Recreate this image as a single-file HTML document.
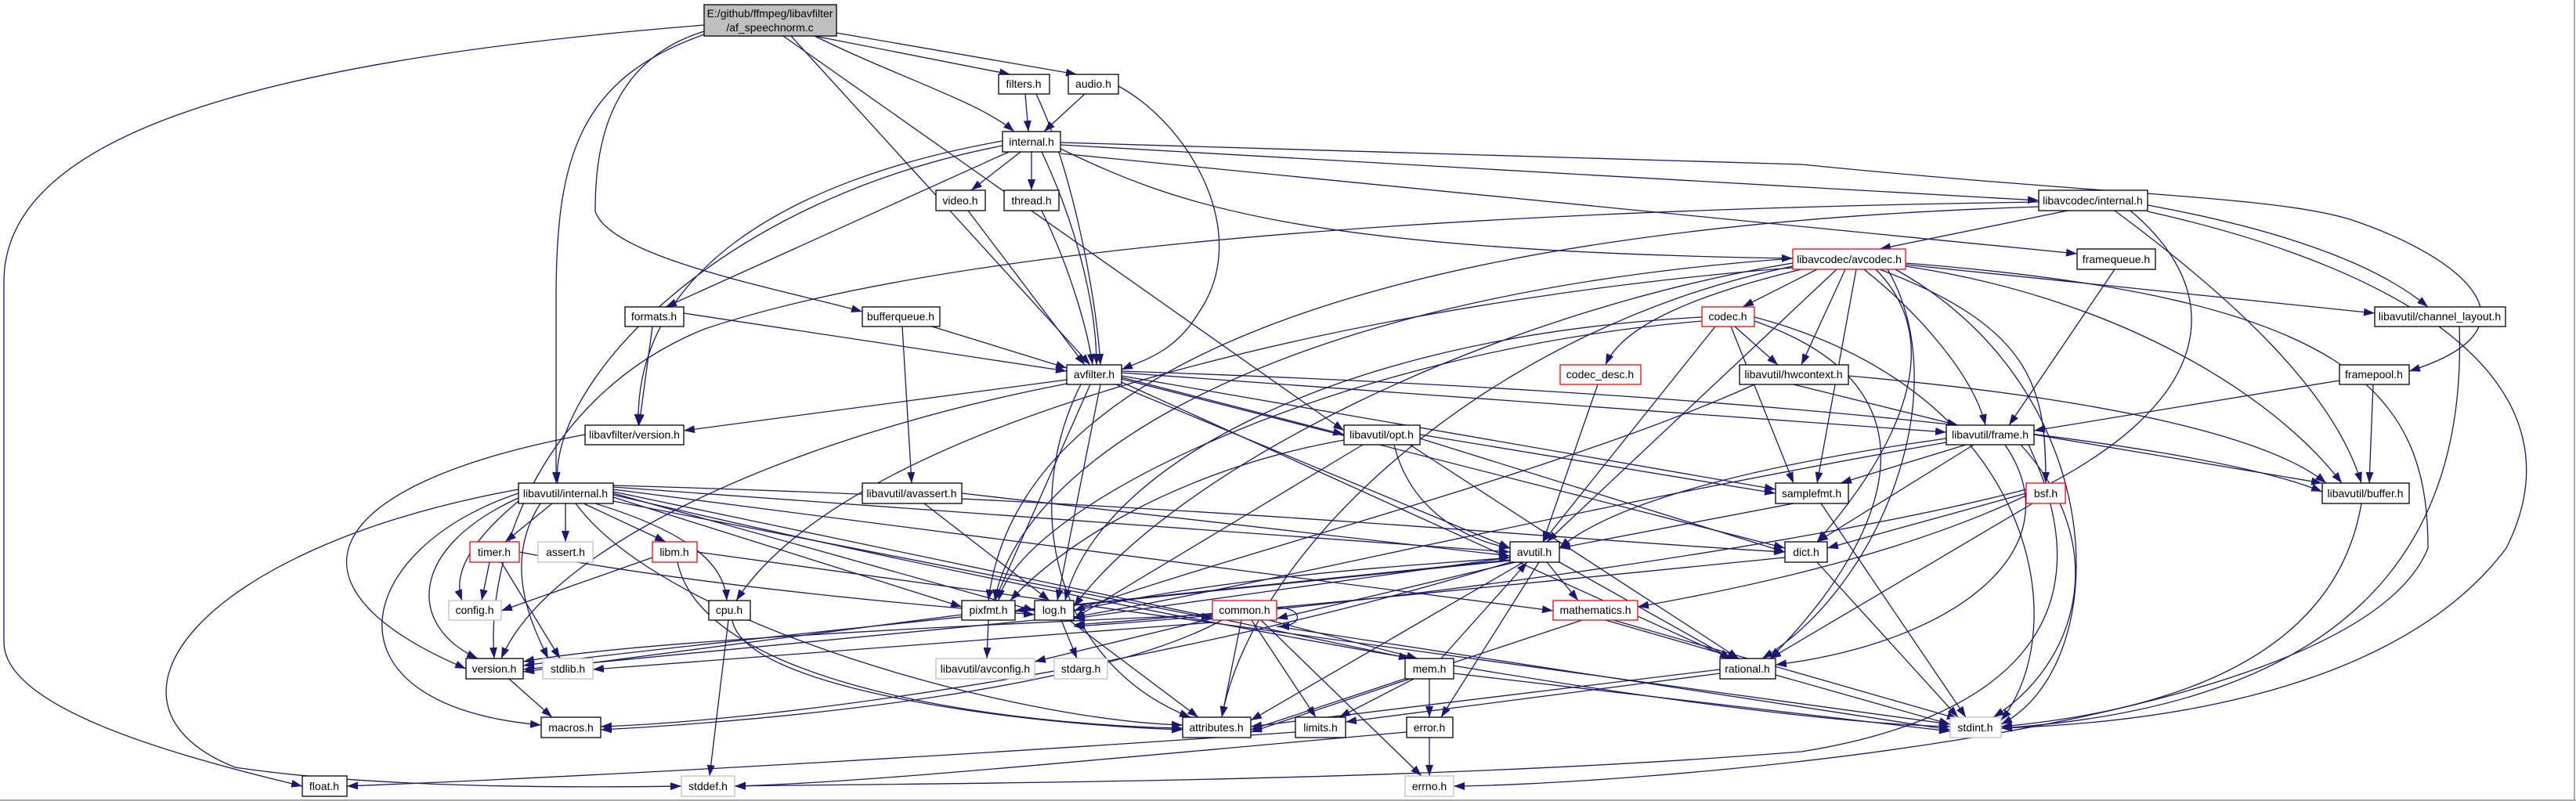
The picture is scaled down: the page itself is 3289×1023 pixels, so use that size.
<!DOCTYPE html>
<html><head><meta charset="utf-8"><style>
html,body{margin:0;padding:0;background:#fff;}
svg{display:block;}
text{font-family:"Liberation Sans",sans-serif;font-size:14px;fill:#000;text-anchor:middle;dominant-baseline:central;}
.e{fill:none;stroke:#191970;stroke-width:1.3;marker-end:url(#a);}
.n{fill:#fff;stroke:#000;stroke-width:1.3;}
.g{fill:#fff;stroke:#bfbfbf;stroke-width:1.3;}
.r{fill:#fff;stroke:#ff0000;stroke-width:1.3;}
</style></head><body>
<svg width="3289" height="1023" viewBox="0 0 3289 1023" xmlns="http://www.w3.org/2000/svg">
<defs><marker id="a" markerUnits="userSpaceOnUse" markerWidth="14" markerHeight="10" refX="14" refY="5" orient="auto"><path d="M0,0 L14,5 L0,10 z" fill="#191970"/></marker></defs>
<rect x="0" y="0" width="3289" height="1023" fill="#fff"/>
<line x1="3287" y1="0" x2="3287" y2="1023" stroke="#aaa" stroke-width="2"/>
<line x1="0" y1="1022" x2="3289" y2="1022" stroke="#aaa" stroke-width="2"/>
<g>
<path class="e" d="M899,32 C300,80 5,180 5,360 L5,820 C5,900 200,960 386,1004"/>
<path class="e" d="M1040,46 L1290,95"/>
<path class="e" d="M1068,42 L1375,95"/>
<path class="e" d="M1040,46 C1150,100 1250,130 1295,168"/>
<path class="e" d="M1010,46 L1392,466"/>
<path class="e" d="M1000,46 L1716,550"/>
<path class="e" d="M899,40 C770,80 760,200 760,270 C780,330 1000,370 1101,398"/>
<path class="e" d="M899,44 C740,100 710,200 710,380 L710,617"/>
<path class="e" d="M1309,120 L1313,168"/>
<path class="e" d="M1323,120 C1370,220 1400,380 1405,466"/>
<path class="e" d="M1385,120 L1333,168"/>
<path class="e" d="M1428,110 C1520,160 1600,300 1530,400 C1500,450 1460,460 1432,472"/>
<path class="e" d="M1303,194 L1240,243"/>
<path class="e" d="M1317,194 L1317,243"/>
<path class="e" d="M1330,194 C1380,300 1400,400 1400,466"/>
<path class="e" d="M1236,269 L1385,466"/>
<path class="e" d="M1330,269 C1370,350 1390,430 1395,466"/>
<path class="e" d="M1288,194 L850,392"/>
<path class="e" d="M1354,185 L2603,256"/>
<path class="e" d="M1354,190 C1500,260 1650,320 2289,330"/>
<path class="e" d="M1354,196 L2652,324"/>
<path class="e" d="M1354,182 L2300,210 C2700,250 2900,250 3000,280 C3150,330 3250,420 3076,474"/>
<path class="e" d="M1280,180 C1000,230 810,350 815,543"/>
<path class="e" d="M1280,186 C900,260 700,500 712,617"/>
<path class="e" d="M873,400 L1362,474"/>
<path class="e" d="M833,417 L816,543"/>
<path class="e" d="M1190,417 L1362,470"/>
<path class="e" d="M1152,417 L1164,617"/>
<path class="e" d="M2640,269 L2400,318"/>
<path class="e" d="M2742,262 C2950,300 3050,350 3100,392"/>
<path class="e" d="M2700,269 C2850,380 2980,500 3015,617"/>
<path class="e" d="M2720,269 C2900,420 2800,650 2091,775"/>
<path class="e" d="M2742,270 C3100,350 3300,500 3200,700 C3050,900 2700,925 2555,930"/>
<path class="e" d="M2603,258 C1800,270 1200,320 900,420 C700,500 620,700 631,841"/>
<path class="e" d="M2603,264 C1800,290 1300,450 1262,767"/>
<path class="e" d="M2320,344 L2225,392"/>
<path class="e" d="M2300,344 C2150,380 2070,420 2050,466"/>
<path class="e" d="M2356,344 L2300,466"/>
<path class="e" d="M2380,344 C2450,400 2520,480 2535,543"/>
<path class="e" d="M2370,344 L2320,617"/>
<path class="e" d="M2395,344 C2500,450 2400,600 2320,692"/>
<path class="e" d="M2345,344 L1975,692"/>
<path class="e" d="M2289,336 C1900,400 1500,600 1371,775"/>
<path class="e" d="M2289,330 C1600,380 1300,600 1270,767"/>
<path class="e" d="M2410,344 C2500,500 2400,750 2250,841"/>
<path class="e" d="M2433,340 C2700,380 2900,500 2990,617"/>
<path class="e" d="M2433,338 L3032,400"/>
<path class="e" d="M2289,340 C1900,420 1600,700 1560,916"/>
<path class="e" d="M2289,342 C1800,380 1100,520 940,767"/>
<path class="e" d="M2433,336 C3000,380 3100,500 3100,700 C3000,950 2000,1004 1856,1004"/>
<path class="e" d="M2420,344 C2700,500 2700,850 2555,925"/>
<path class="e" d="M2400,344 C2600,420 2612,500 2612,617"/>
<path class="e" d="M2215,417 L2270,466"/>
<path class="e" d="M2210,417 L2290,617"/>
<path class="e" d="M2190,417 L1970,692"/>
<path class="e" d="M2173,405 C1700,430 1400,600 1360,767"/>
<path class="e" d="M2173,410 C1700,450 1300,650 1275,767"/>
<path class="e" d="M2240,410 C2500,500 2400,700 2260,841"/>
<path class="e" d="M2240,405 C2600,500 2650,800 2555,920"/>
<path class="e" d="M2040,491 L1970,692"/>
<path class="e" d="M2290,491 L2500,543"/>
<path class="e" d="M2360,480 C2700,510 2900,560 2970,617"/>
<path class="e" d="M2240,491 C2000,600 1600,700 1371,780"/>
<path class="e" d="M2987,486 L2597,550"/>
<path class="e" d="M3030,491 L3025,617"/>
<path class="e" d="M2700,344 L2565,543"/>
<path class="e" d="M3140,417 C3150,700 3000,900 2555,930"/>
<path class="e" d="M1362,485 L873,550"/>
<path class="e" d="M1432,482 L1716,555"/>
<path class="e" d="M1432,476 L2485,552"/>
<path class="e" d="M1432,480 L2267,625"/>
<path class="e" d="M1432,484 L2279,700"/>
<path class="e" d="M1425,491 L1928,700"/>
<path class="e" d="M1405,491 L1350,767"/>
<path class="e" d="M1392,491 L1270,767"/>
<path class="e" d="M1432,488 L2210,841"/>
<path class="e" d="M1432,474 C2200,500 2800,560 2965,628"/>
<path class="e" d="M1380,491 C1300,650 1350,850 1520,916"/>
<path class="e" d="M1362,490 C1000,560 700,700 640,841"/>
<path class="e" d="M1780,568 C1800,650 1870,690 1928,700"/>
<path class="e" d="M1813,560 L2279,705"/>
<path class="e" d="M1740,568 L1371,790"/>
<path class="e" d="M1716,562 C1500,600 1350,700 1290,767"/>
<path class="e" d="M1813,555 L2267,630"/>
<path class="e" d="M1800,568 L2220,841"/>
<path class="e" d="M2510,568 L2350,617"/>
<path class="e" d="M2520,568 L2320,692"/>
<path class="e" d="M2485,560 C2200,600 2050,650 1991,700"/>
<path class="e" d="M2485,565 C2000,650 1600,750 1371,788"/>
<path class="e" d="M2560,568 C2650,700 2500,820 2267,849"/>
<path class="e" d="M2597,555 L2965,617"/>
<path class="e" d="M2580,568 C2700,700 2650,850 2545,916"/>
<path class="e" d="M2590,568 C2700,800 2550,920 2300,960 C1800,1000 1200,1000 938,1004"/>
<path class="e" d="M2290,643 L1991,700"/>
<path class="e" d="M2325,643 L2510,916"/>
<path class="e" d="M2587,630 L2333,700"/>
<path class="e" d="M2595,643 L2260,841"/>
<path class="e" d="M2587,625 C2300,700 1700,780 1371,800"/>
<path class="e" d="M3015,643 C2980,850 2750,910 2555,928"/>
<path class="e" d="M2320,718 L2500,916"/>
<path class="e" d="M2279,712 C1900,750 1500,790 1371,798"/>
<path class="e" d="M1228,630 L1928,710"/>
<path class="e" d="M1180,643 L1340,767"/>
<path class="e" d="M705,643 L645,692"/>
<path class="e" d="M722,643 L722,692"/>
<path class="e" d="M745,643 L850,692"/>
<path class="e" d="M760,643 C880,680 925,720 928,767"/>
<path class="e" d="M662,640 C590,700 580,740 590,767"/>
<path class="e" d="M662,636 C520,700 520,800 610,841"/>
<path class="e" d="M690,643 C640,720 680,800 700,841"/>
<path class="e" d="M662,630 C450,700 400,900 691,926"/>
<path class="e" d="M662,625 C250,700 100,900 300,980 C500,1010 800,1005 870,1004"/>
<path class="e" d="M735,643 C850,800 1300,920 1510,926"/>
<path class="e" d="M783,635 L1228,775"/>
<path class="e" d="M783,630 L1321,780"/>
<path class="e" d="M783,620 C1500,640 2000,690 2279,705"/>
<path class="e" d="M783,640 L1548,790"/>
<path class="e" d="M783,625 L1983,780"/>
<path class="e" d="M783,628 L1800,841"/>
<path class="e" d="M783,622 L1928,705"/>
<path class="e" d="M783,632 C1500,800 2200,920 2490,928"/>
<path class="e" d="M625,718 L615,767"/>
<path class="e" d="M640,718 L715,841"/>
<path class="e" d="M663,705 C900,750 1200,775 1321,785"/>
<path class="e" d="M833,712 L640,780"/>
<path class="e" d="M865,718 C900,880 1300,926 1510,930"/>
<path class="e" d="M890,705 L2490,925"/>
<path class="e" d="M935,792 C950,880 1300,925 1510,932"/>
<path class="e" d="M930,792 L906,991"/>
<path class="e" d="M1935,718 L1630,790"/>
<path class="e" d="M1975,718 L2015,767"/>
<path class="e" d="M1928,712 L1371,790"/>
<path class="e" d="M1928,715 L1296,780"/>
<path class="e" d="M1928,716 C1500,760 900,820 668,850"/>
<path class="e" d="M1991,718 L2210,841"/>
<path class="e" d="M1965,718 L1840,916"/>
<path class="e" d="M1928,718 C1500,850 1000,920 767,928"/>
<path class="e" d="M1945,718 L1597,920"/>
<path class="e" d="M1585,792 L1560,916"/>
<path class="e" d="M1598,792 L1680,916"/>
<path class="e" d="M1610,792 L1815,991"/>
<path class="e" d="M1620,792 L1810,841"/>
<path class="e" d="M1560,792 C1400,880 1000,920 767,932"/>
<path class="e" d="M1630,800 L2490,932"/>
<path class="e" d="M1548,790 L1321,845"/>
<path class="e" d="M1548,785 C1200,800 800,820 668,845"/>
<path class="e" d="M1630,776 C1665,776 1665,800 1632,800"/>
<path class="e" d="M1548,795 L757,855"/>
<path class="e" d="M2050,792 L2220,841"/>
<path class="e" d="M2060,792 L2500,918"/>
<path class="e" d="M2020,792 L1597,932"/>
<path class="e" d="M1800,867 L1597,935"/>
<path class="e" d="M1825,867 L1825,916"/>
<path class="e" d="M1805,867 L1710,916"/>
<path class="e" d="M1856,860 L2490,934"/>
<path class="e" d="M1840,841 L1950,718"/>
<path class="e" d="M1825,942 L1825,991"/>
<path class="e" d="M1365,792 L1530,916"/>
<path class="e" d="M1355,792 L1375,841"/>
<path class="e" d="M1321,792 L668,855"/>
<path class="e" d="M1371,780 C1600,730 1850,720 1928,712"/>
<path class="e" d="M1262,792 L1260,841"/>
<path class="e" d="M1228,785 L668,858"/>
<path class="e" d="M2267,862 L2490,925"/>
<path class="e" d="M2196,855 L1597,928"/>
<path class="e" d="M2196,860 L1718,922"/>
<path class="e" d="M650,867 L705,916"/>
<path class="e" d="M747,555 C400,620 350,750 595,854"/>
<path class="e" d="M1654,935 C1300,960 800,990 443,1004"/>
<path class="e" d="M1796,935 C1400,970 1100,1000 938,1004"/>
</g>
<g>
<rect x="899" y="6" width="169" height="40" fill="#bfbfbf" stroke="#000" stroke-width="1.3"/>
<text x="983" y="17">E:/github/ffmpeg/libavfilter</text><text x="983" y="35">/af_speechnorm.c</text>
<rect class="n" x="1275" y="95" width="65" height="25"/><text x="1307" y="107">filters.h</text>
<rect class="n" x="1364" y="95" width="64" height="25"/><text x="1396" y="107">audio.h</text>
<rect class="n" x="1280" y="168" width="74" height="26"/><text x="1317" y="181">internal.h</text>
<rect class="n" x="1195" y="243" width="63" height="26"/><text x="1226" y="256">video.h</text>
<rect class="n" x="1282" y="243" width="70" height="26"/><text x="1317" y="256">thread.h</text>
<rect class="n" x="2603" y="243" width="139" height="26"/><text x="2672" y="256">libavcodec/internal.h</text>
<rect class="r" x="2289" y="318" width="144" height="26"/><text x="2361" y="331">libavcodec/avcodec.h</text>
<rect class="n" x="2652" y="318" width="100" height="26"/><text x="2702" y="331">framequeue.h</text>
<rect class="n" x="798" y="392" width="75" height="25"/><text x="835" y="404">formats.h</text>
<rect class="n" x="1101" y="392" width="99" height="25"/><text x="1150" y="404">bufferqueue.h</text>
<rect class="r" x="2173" y="392" width="67" height="25"/><text x="2206" y="404">codec.h</text>
<rect class="n" x="3032" y="392" width="167" height="25"/><text x="3115" y="404">libavutil/channel_layout.h</text>
<rect class="n" x="1362" y="466" width="70" height="25"/><text x="1397" y="478">avfilter.h</text>
<rect class="r" x="1992" y="466" width="103" height="25"/><text x="2043" y="478">codec_desc.h</text>
<rect class="n" x="2221" y="466" width="139" height="25"/><text x="2290" y="478">libavutil/hwcontext.h</text>
<rect class="n" x="2987" y="466" width="89" height="25"/><text x="3031" y="478">framepool.h</text>
<rect class="n" x="747" y="543" width="126" height="25"/><text x="810" y="555">libavfilter/version.h</text>
<rect class="n" x="1716" y="543" width="97" height="25"/><text x="1764" y="555">libavutil/opt.h</text>
<rect class="n" x="2485" y="543" width="112" height="25"/><text x="2541" y="555">libavutil/frame.h</text>
<rect class="n" x="662" y="617" width="121" height="26"/><text x="722" y="630">libavutil/internal.h</text>
<rect class="n" x="1101" y="617" width="127" height="26"/><text x="1164" y="630">libavutil/avassert.h</text>
<rect class="n" x="2267" y="617" width="93" height="26"/><text x="2313" y="630">samplefmt.h</text>
<rect class="r" x="2587" y="617" width="50" height="26"/><text x="2612" y="630">bsf.h</text>
<rect class="n" x="2965" y="617" width="111" height="26"/><text x="3020" y="630">libavutil/buffer.h</text>
<rect class="r" x="600" y="692" width="63" height="26"/><text x="631" y="705">timer.h</text>
<rect class="g" x="687" y="692" width="70" height="26"/><text x="722" y="705">assert.h</text>
<rect class="r" x="833" y="692" width="57" height="26"/><text x="861" y="705">libm.h</text>
<rect class="n" x="1928" y="692" width="63" height="26"/><text x="1959" y="705">avutil.h</text>
<rect class="n" x="2279" y="692" width="54" height="26"/><text x="2306" y="705">dict.h</text>
<rect class="g" x="573" y="767" width="67" height="25"/><text x="606" y="779">config.h</text>
<rect class="n" x="905" y="767" width="53" height="25"/><text x="931" y="779">cpu.h</text>
<rect class="n" x="1228" y="767" width="68" height="25"/><text x="1262" y="779">pixfmt.h</text>
<rect class="n" x="1321" y="767" width="50" height="25"/><text x="1346" y="779">log.h</text>
<rect class="r" x="1548" y="767" width="82" height="25"/><text x="1589" y="779">common.h</text>
<rect class="r" x="1983" y="767" width="108" height="25"/><text x="2037" y="779">mathematics.h</text>
<rect class="n" x="595" y="841" width="73" height="26"/><text x="631" y="854">version.h</text>
<rect class="g" x="693" y="841" width="64" height="26"/><text x="725" y="854">stdlib.h</text>
<rect class="g" x="1195" y="841" width="126" height="26"/><text x="1258" y="854">libavutil/avconfig.h</text>
<rect class="g" x="1346" y="841" width="68" height="26"/><text x="1380" y="854">stdarg.h</text>
<rect class="n" x="1794" y="841" width="62" height="26"/><text x="1825" y="854">mem.h</text>
<rect class="n" x="2196" y="841" width="71" height="26"/><text x="2231" y="854">rational.h</text>
<rect class="n" x="691" y="916" width="76" height="26"/><text x="729" y="929">macros.h</text>
<rect class="n" x="1510" y="916" width="87" height="26"/><text x="1553" y="929">attributes.h</text>
<rect class="n" x="1654" y="916" width="64" height="26"/><text x="1686" y="929">limits.h</text>
<rect class="n" x="1796" y="916" width="59" height="26"/><text x="1825" y="929">error.h</text>
<rect class="g" x="2490" y="916" width="65" height="26"/><text x="2522" y="929">stdint.h</text>
<rect class="n" x="386" y="991" width="57" height="26"/><text x="414" y="1004">float.h</text>
<rect class="g" x="870" y="991" width="68" height="26"/><text x="904" y="1004">stddef.h</text>
<rect class="g" x="1794" y="991" width="62" height="26"/><text x="1825" y="1004">errno.h</text>
</g>
</svg>
</body></html>
